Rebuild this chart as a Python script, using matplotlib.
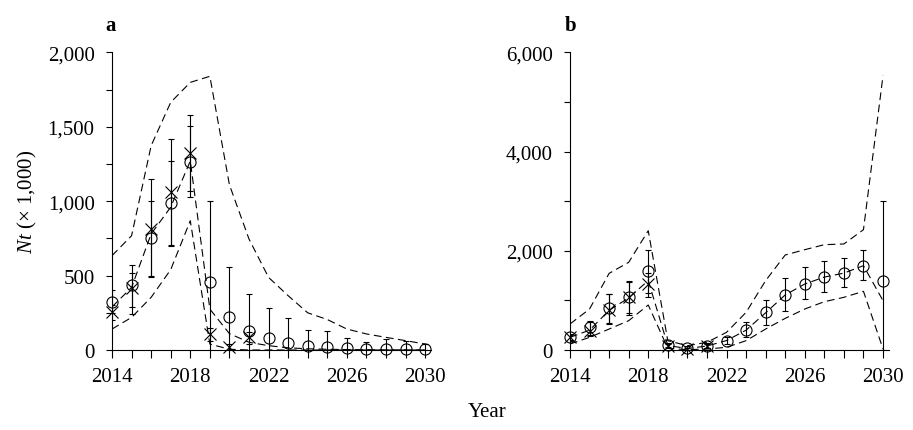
import numpy as np
import matplotlib
matplotlib.use("Agg")
import matplotlib.pyplot as plt
from matplotlib.ticker import MultipleLocator, FixedLocator, FuncFormatter

plt.rcParams['font.family'] = ['Liberation Serif', 'DejaVu Serif']
plt.rcParams['mathtext.fontset'] = 'custom'
plt.rcParams['mathtext.it'] = 'Liberation Serif:italic'
plt.rcParams['mathtext.rm'] = 'Liberation Serif'

years = np.arange(2014, 2031)
obs_years = np.arange(2014, 2022)
xtick_labels = [2014, 2018, 2022, 2026, 2030]

# panel a: predicted mean (circles) with error bars, observed (crosses), bands
a_mean = [325, 437, 750, 988, 1265, 455, 224, 130, 78, 47, 29, 22, 14, 10, 8, 6, 4]
a_err_lo = [250, 245, 488, 701, 1026, 0, 0, 0, 0, 0, 0, 0, 0, 0, 0, 0, 0]
a_err_hi = [400, 573, 1149, 1415, 1579, 999, 560, 376, 280, 213, 136, 130, 79, 56, 74, 58, 40]
a_obs = [253, 414, 813, 1064, 1324, 107, 18, 85]
a_obs_lo = [200, 290, 500, 705, 1070, 60, 0, 40]
a_obs_hi = [300, 520, 1003, 1272, 1507, 150, 40, 120]
a_upper = [634, 768, 1373, 1664, 1798, 1839, 1110, 746, 488, 365, 250, 205, 141, 108, 85, 63, 40]
a_middle = [290, 420, 780, 960, 1270, 275, 110, 52, 29, 15, 8, 5, 3, 2, 1, 1, 0]
a_lower = [141, 219, 354, 540, 869, 40, 5, 0, 0, 0, 0, 0, 0, 0, 0, 0, 0]

# panel b
b_mean = [255, 457, 840, 1075, 1599, 100, 40, 87, 188, 403, 759, 1115, 1330, 1478, 1552, 1700, 1384]
b_err_lo = [180, 300, 540, 750, 1150, 60, 10, 50, 120, 255, 504, 793, 1028, 1162, 1263, 1411, 0]
b_err_hi = [330, 590, 1130, 1400, 2020, 150, 80, 140, 260, 571, 1015, 1451, 1666, 1787, 1848, 2016, 3010]
b_obs = [255, 390, 813, 1062, 1330, 74, 20, 87]
b_obs_lo = [200, 290, 520, 700, 1060, 40, 0, 50]
b_obs_hi = [310, 560, 1120, 1380, 1550, 120, 50, 130]
b_upper = [524, 826, 1545, 1767, 2405, 188, 87, 155, 356, 759, 1398, 1915, 2022, 2123, 2137, 2425, 5530]
b_middle = [255, 400, 800, 1050, 1400, 90, 30, 80, 190, 400, 750, 1110, 1330, 1470, 1550, 1700, 994]
b_lower = [121, 255, 423, 591, 907, 34, 7, 20, 54, 188, 423, 638, 826, 974, 1062, 1183, 20]

fig = plt.figure(figsize=(9.13, 4.31), dpi=100)
ax_a = fig.add_axes([0.1227, 0.1856, 0.3493, 0.6907])
ax_b = fig.add_axes([0.6243, 0.1856, 0.3493, 0.6907])

dash = dict(color='black', lw=0.8, ls=(0, (7, 4)))


def draw(ax, mean, lo, hi, obs, olo, ohi, upper, middle, lower, ymax, major, minor):
    ax.plot(years, upper, **dash)
    ax.plot(years, middle, **dash)
    ax.plot(years, lower, **dash)
    m = np.array(mean)
    ax.errorbar(years, m, yerr=[m - np.array(lo), np.array(hi) - m], fmt='none',
                ecolor='black', elinewidth=0.8, capsize=2.5, capthick=0.8)
    o = np.array(obs)
    ax.errorbar(obs_years, o, yerr=[o - np.array(olo), np.array(ohi) - o], fmt='none',
                ecolor='black', elinewidth=0.8, capsize=2.5, capthick=0.8)
    ax.plot(years, mean, ls='none', marker='o', ms=8, mfc='none', mec='black', mew=0.8,
            clip_on=False, zorder=5)
    ax.plot(obs_years, obs, ls='none', marker='x', ms=8, color='black', mew=0.8,
            clip_on=False, zorder=5)

    ax.set_xlim(2014, 2030.3)
    ax.set_ylim(0, ymax)
    ax.spines['top'].set_visible(False)
    ax.spines['right'].set_visible(False)
    ax.spines['left'].set_bounds(0, ymax)
    ax.xaxis.set_major_locator(FixedLocator(xtick_labels))
    ax.xaxis.set_minor_locator(FixedLocator(years))
    ax.yaxis.set_major_locator(MultipleLocator(major))
    ax.yaxis.set_minor_locator(MultipleLocator(minor))
    ax.yaxis.set_major_formatter(FuncFormatter(lambda v, p: f'{int(v):,}'))
    ax.tick_params(which='both', direction='out', width=0.8, labelsize=15)
    ax.tick_params(axis='x', which='both', length=5.5, pad=7)
    ax.tick_params(axis='y', which='both', length=4.5, pad=8)


draw(ax_a, a_mean, a_err_lo, a_err_hi, a_obs, a_obs_lo, a_obs_hi,
     a_upper, a_middle, a_lower, 2000, 500, 250)
draw(ax_b, b_mean, b_err_lo, b_err_hi, b_obs, b_obs_lo, b_obs_hi,
     b_upper, b_middle, b_lower, 6000, 2000, 1000)

ax_a.set_ylabel(r'$Nt$ (× 1,000)', fontsize=15, labelpad=6)
fig.text(111 / 913, 1 - 26 / 431, 'a', fontsize=15, fontweight='bold', ha='center', va='center')
fig.text(571 / 913, 1 - 26 / 431, 'b', fontsize=15, fontweight='bold', ha='center', va='center')
fig.text(487 / 913, 1 - 413 / 431, 'Year', fontsize=15, ha='center', va='center')

fig.savefig('out.png', dpi=100)
